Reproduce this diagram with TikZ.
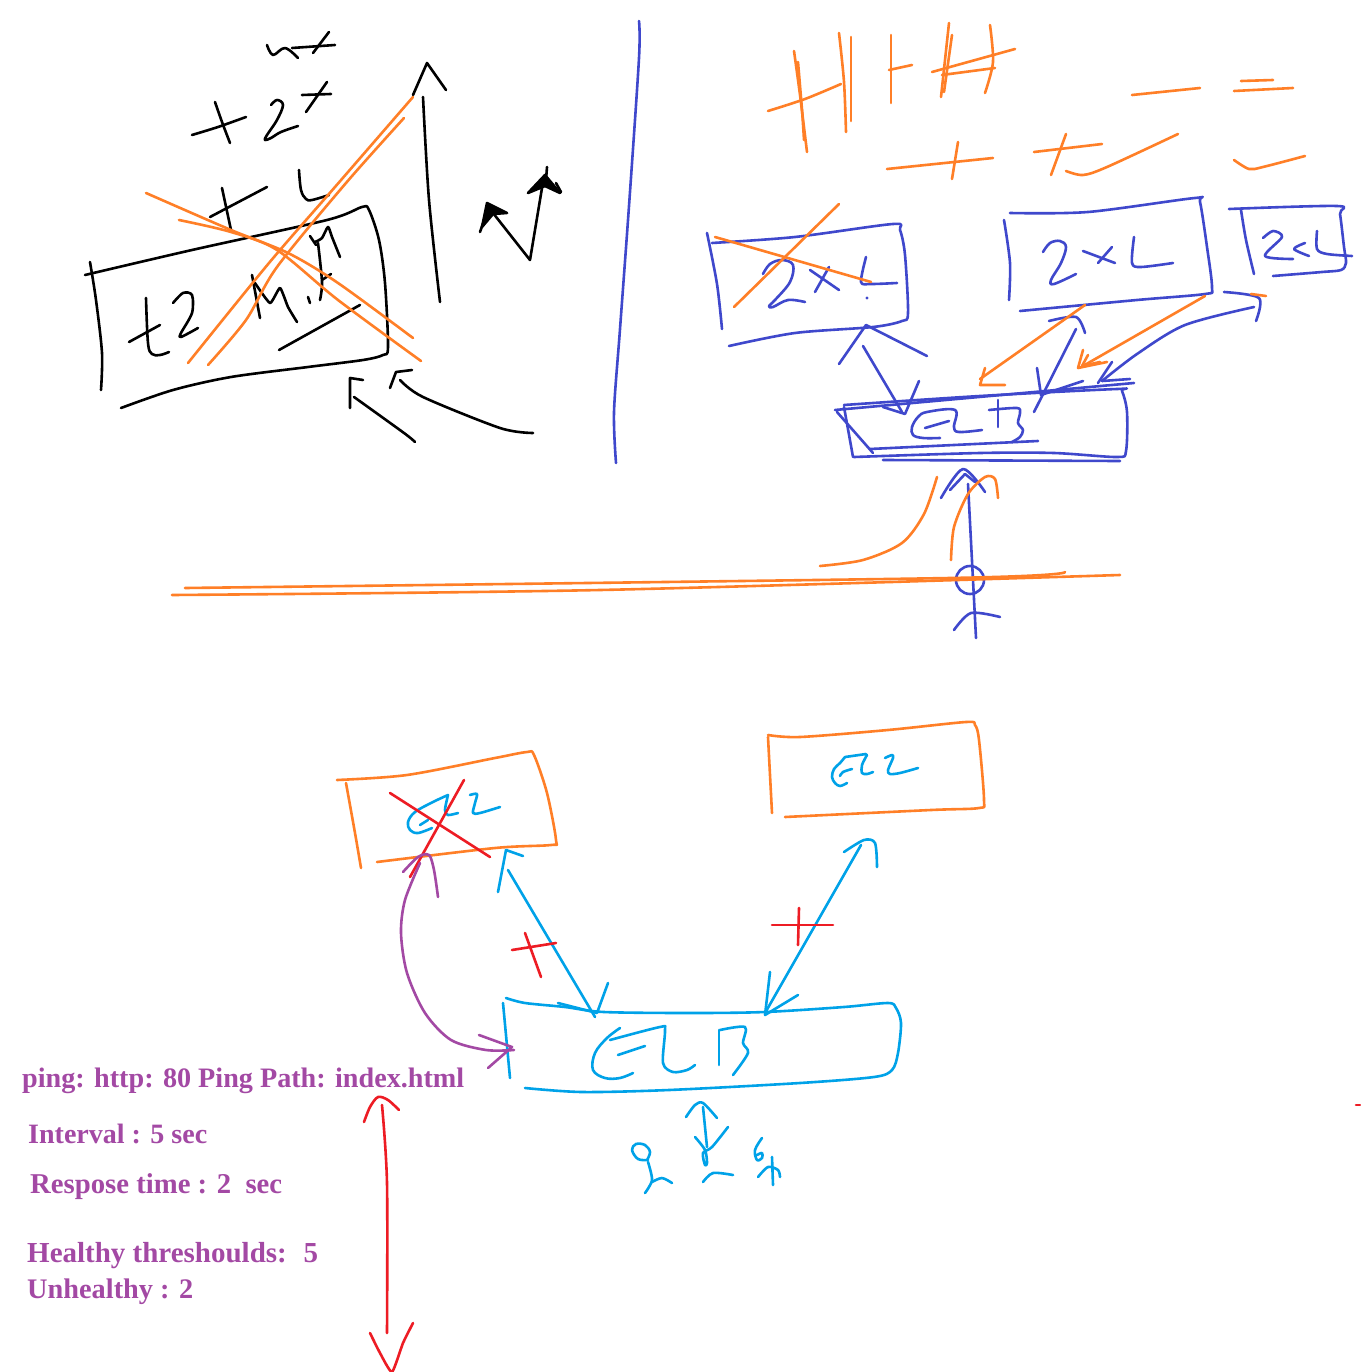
\documentclass[tikz,border=0pt]{standalone}
\usepackage{fontspec}
\setmainfont{Liberation Serif}
\definecolor{orng}{HTML}{FF7F27}
\definecolor{indg}{HTML}{3F48CC}
\definecolor{lblu}{HTML}{00A2E8}
\definecolor{redd}{HTML}{ED1C24}
\definecolor{purp}{HTML}{A349A4}
\tikzset{
  pen/.style={line width=2.6pt, line cap=round, line join=round},
  bk/.style={pen, black},
  og/.style={pen, orng},
  ib/.style={pen, indg},
  lb/.style={pen, lblu},
  rd/.style={pen, redd},
  pp/.style={pen, purp},
  txt/.style={anchor=base west, inner sep=0pt, text=purp, font=\bfseries}
}
\begin{document}
\begin{tikzpicture}[x=1pt,y=-1pt]
\useasboundingbox[fill=white] (0,0) rectangle (1360,1372);
% ================= top-left black sketch =================
\draw[bk] plot[smooth,tension=0.6] coordinates {(267,45)(273,55)(285,48)(298,58)};
\draw[bk] (292,48) -- (335,45);
\draw[bk] (329,32) -- (313,53);
\draw[bk] plot[smooth] coordinates {(192,135)(218,127)(246,117)};
\draw[bk] plot[smooth] coordinates {(215,102)(222,122)(230,143)};
\draw[bk] plot[smooth,tension=0.6] coordinates {(271,105)(277,100)(283,105)(277,120)(267,135)(265,140)(271,138)(281,132)(298,126)};
\draw[bk] (302,95) -- (331,94);
\draw[bk] (327,82) -- (306,112);
\draw[bk] (210,217) -- (267,187);
\draw[bk] (222,188) -- (231,230);
\draw[bk] plot[smooth,tension=0.6] coordinates {(299,170)(301,190)(306,199)(312,200)(329,195)};
% box
\draw[bk] plot[smooth,tension=0.5] coordinates {(85,275)(192,250)(327,220)(362,207)(369,210)(379,240)(385,283)(388,347)(383,355)(363,360)(308,367)(231,377)(173,390)(121,408)};
\draw[bk] plot[smooth] coordinates {(90,262)(96,300)(102,353)(101,390)};
% t2
\draw[bk] plot[smooth,tension=0.6] coordinates {(146,298)(148,343)(152,354)(160,355)(169,352)};
\draw[bk] (129,342) -- (160,325);
\draw[bk] plot[smooth,tension=0.5] coordinates {(173,303)(183,293)(192,295)(192,313)(181,333)(181,337)(198,328)};
% M1x
\draw[bk] (310,236) -- (316,245);
\draw[bk] plot[smooth,tension=0.4] coordinates {(315,242)(322,238)(328,227)(332,237)(340,257)};
\draw[bk] plot[smooth] coordinates {(318,243)(322,282)(320,300)};
\draw[bk] (322,280) -- (331,274);
\draw[bk] (308,297) -- (310,303);
\draw[bk] (252,275) -- (260,318);
\draw[bk] plot[smooth,tension=0.3] coordinates {(255,283)(270,303)(280,288)(288,307)(297,322)};
\draw[bk] (279,350) -- (360,305);
% tall arrow
\draw[bk] plot[smooth] coordinates {(423,97)(429,200)(440,302)};
\draw[bk] (413,95) -- (427,63) -- (446,90);
% small arrows with filled heads
\draw[bk] (530,260) -- (493,213);
\draw[bk, fill=black] (482,227) -- (487,203) -- (507,213) -- (493,214) -- cycle;
\draw[bk] (480,232) -- (486,215);
\draw[bk] (530,260) -- (542,188);
\draw[bk, fill=black] (528,193) -- (545,175) -- (560,193) -- (545,186) -- cycle;
\draw[bk] (547,167) -- (546,180);
\draw[bk] (556,183) -- (561,192);
% bottom black arrows
\draw[bk] plot[smooth] coordinates {(415,442)(404,433)(354,397)};
\draw[bk] (350,408) -- (350,378) -- (363,380);
\draw[bk] plot[smooth] coordinates {(533,433)(500,428)(423,397)(400,380)};
\draw[bk] (390,388) -- (396,372) -- (412,370);
% orange cross-outs
\draw[og] plot[smooth] coordinates {(146,193)(231,230)(288,253)(338,283)(413,338)};
\draw[og] plot[smooth] coordinates {(179,220)(231,232)(277,250)(338,300)(421,361)};
\draw[og] plot[smooth] coordinates {(188,363)(269,263)(335,187)(413,97)};
\draw[og] plot[smooth] coordinates {(208,365)(246,320)(277,267)(346,183)(404,118)};
% ================= divider =================
\draw[ib] plot[smooth] coordinates {(639,21)(639,58)(629,206)(620,329)(614,412)(616,463)};
% ================= top-right orange tallies =================
\draw[og] plot[smooth] coordinates {(794,51)(800,95)(807,152)};
\draw[og] plot[smooth] coordinates {(798,62)(802,110)(804,140)};
\draw[og] plot[smooth] coordinates {(768,111)(805,99)(841,84)};
\draw[og] plot[smooth] coordinates {(839,33)(844,82)(846,132)};
\draw[og] (851,37) -- (851,121);
\draw[og] (891,35) -- (891,103);
\draw[og] (889,70) -- (912,65);
\draw[og] (949,23) -- (941,97);
\draw[og] (952,35) -- (944,92);
\draw[og] (932,72) -- (1015,49);
\draw[og] (942,75) -- (995,68);
\draw[og] plot[smooth] coordinates {(990,25)(993,62)(985,93)};
\draw[og] (1132,95) -- (1200,88);
\draw[og] (1241,81) -- (1273,80);
\draw[og] (1234,91) -- (1293,88);
\draw[og] (887,169) -- (993,158);
\draw[og] (958,142) -- (952,179);
\draw[og] (1034,152) -- (1102,144);
\draw[og] (1066,134) -- (1051,175);
\draw[og] plot[smooth] coordinates {(1066,171)(1083,175)(1107,167)(1178,134)};
\draw[og] plot[smooth] coordinates {(1234,160)(1249,169)(1263,167)(1305,156)};
% ================= top-right blue boxes =================
% box 2x! (crossed)
\draw[ib] plot[smooth,tension=0.5] coordinates {(712,243)(795,237)(893,224)(900,230)(905,255)(908,313)(902,321)(873,327)(795,333)(729,346)};
\draw[ib] plot[smooth] coordinates {(707,233)(717,284)(722,329)};
\draw[ib] plot[smooth,tension=0.6] coordinates {(763,274)(770,264)(782,260)(793,265)(790,282)(775,300)(769,306)(773,307)(788,300)(805,302)};
\draw[ib] (810,270) -- (839,290);
\draw[ib] (815,292) -- (829,267);
\draw[ib] plot[smooth,tension=0.5] coordinates {(866,257)(861,282)(871,284)(897,283)};
\fill[indg] (867,298) circle (1.6);
\draw[og] (715,237) -- (871,282);
\draw[og] (734,307) -- (839,204);
% box 2xL
\draw[ib] plot[smooth,tension=0.5] coordinates {(1010,213)(1088,212)(1195,198)(1200,202)(1207,247)(1212,288)(1205,294)(1137,300)(1020,311)};
\draw[ib] plot[smooth] coordinates {(1004,220)(1010,263)(1009,300)};
\draw[ib] plot[smooth,tension=0.6] coordinates {(1043,252)(1050,243)(1060,241)(1066,247)(1061,263)(1051,280)(1054,284)(1076,274)};
\draw[ib] (1083,251) -- (1115,263);
\draw[ib] (1098,263) -- (1112,247);
\draw[ib] plot[smooth,tension=0.5] coordinates {(1134,237)(1132,263)(1141,267)(1173,263)};
% box 2<L
\draw[ib] plot[smooth,tension=0.5] coordinates {(1229,209)(1337,206)(1340,214)(1344,247)(1346,263)(1341,270)(1322,272)(1273,276)};
\draw[ib] plot[smooth] coordinates {(1241,210)(1246,240)(1254,274)};
\draw[ib] plot[smooth,tension=0.5] coordinates {(1263,238)(1273,231)(1282,237)(1265,256)(1293,259)};
\draw[ib] plot[smooth,tension=0.5] coordinates {(1305,243)(1294,249)(1309,256)};
\draw[ib] plot[smooth,tension=0.5] coordinates {(1317,231)(1317,249)(1327,254)(1352,256)};
% ELB box (top)
\draw[ib] plot[smooth,tension=0.5] coordinates {(844,405)(980,396)(1117,389)(1122,391)(1127,412)(1126,451)(1117,457)(1054,453)(980,453)(854,457)};
\draw[ib] (844,407) -- (853,457);
\draw[ib] (835,410) -- (1134,383);
\draw[ib] (883,460) -- (1120,461);
\draw[ib] (837,412) -- (873,453);
\draw[ib] (870,449) -- (1038,441);
\draw[ib] plot[smooth,tension=0.6] coordinates {(940,438)(923,438)(913,435)(912,427)(918,417)(927,412)(955,410)(954,427)(959,432)(982,430)};
\draw[ib] (925,428) -- (949,421);
\draw[ib] (998,400) -- (998,427);
\draw[ib] plot[smooth,tension=0.5] coordinates {(989,410)(1017,408)(1020,413)(1018,423)(1023,430)(1020,437)(1012,442)};
% arrows between boxes
\draw[ib] (839,364) -- (866,325) -- (927,356);
\draw[ib] (863,346) -- (902,412);
\draw[ib] (883,407) -- (905,414) -- (919,381);
\draw[ib] (1034,412) -- (1076,329);
\draw[ib] plot[smooth] coordinates {(1049,321)(1076,317)(1085,333)};
\draw[ib] (1037,368) -- (1041,395) -- (1083,381);
\draw[og] (1085,305) -- (980,379);
\draw[og] (985,368) -- (980,385) -- (1005,385);
\draw[og] (1205,296) -- (1083,366);
\draw[og] (1083,350) -- (1078,368) -- (1107,362);
\draw[og] (1088,355) -- (1082,366) -- (1100,362);
\draw[ib] plot[smooth] coordinates {(1102,381)(1137,354)(1185,325)(1254,307)};
\draw[ib] plot[smooth] coordinates {(1224,292)(1259,298)(1256,321)};
\draw[ib] (1098,383) -- (1112,362);
\draw[ib] (1102,381) -- (1130,379);
\draw[og] (1251,294) -- (1266,296);
% below top ELB
\draw[ib] (968,484) -- (976,638);
\draw[ib] plot[smooth] coordinates {(941,498)(963,469)(985,492)};
\draw[ib] (950,490) -- (965,474) -- (975,482);
\draw[ib] (970,580) circle (14);
\draw[ib] plot[smooth] coordinates {(954,630)(971,613)(1000,617)};
\draw[og] plot[smooth] coordinates {(937,477)(924,514)(902,543)(863,560)(820,566)};
\draw[og] plot[smooth] coordinates {(951,560)(954,527)(968,494)(985,477)(995,479)(998,498)};
\draw[og] plot[smooth] coordinates {(172,595)(600,590)(1120,575)};
\draw[og] plot[smooth] coordinates {(185,588)(950,578)(1065,572)};
% ================= bottom diagram =================
% left orange box
\draw[og] plot[smooth,tension=0.5] coordinates {(337,780)(407,775)(495,758)(527,752)(534,755)(547,793)(556,840)(551,845)(495,848)(377,862)};
\draw[og] plot[smooth] coordinates {(346,783)(355,833)(361,868)};
\draw[lb] plot[smooth,tension=0.6] coordinates {(448,795)(433,802)(415,812)(408,822)(410,830)(418,833)(432,828)};
\draw[lb] (420,825) -- (428,820);
\draw[lb] plot[smooth,tension=0.5] coordinates {(448,795)(445,810)(448,815)(458,813)};
\draw[lb] plot[smooth,tension=0.5] coordinates {(470,795)(477,794)(475,803)(473,813)(480,813)(500,807)};
\draw[rd] (390,793) -- (490,857);
\draw[rd] (464,780) -- (410,877);
% right orange box
\draw[og] plot[smooth,tension=0.5] coordinates {(768,735)(800,737)(888,730)(966,722)(975,725)(979,740)(984,800)(979,808)(931,810)(785,817)};
\draw[og] (768,737) -- (772,813);
\draw[lb] plot[smooth,tension=0.6] coordinates {(845,757)(840,763)(834,769)(832,777)(835,783)(840,786)(847,783)};
\draw[lb] plot[smooth,tension=0.6] coordinates {(852,769)(843,772)(840,776)};
\draw[lb] (845,757) -- (866,754);
\draw[lb] plot[smooth,tension=0.5] coordinates {(867,755)(862,765)(862,773)(867,774)(873,772)};
\draw[lb] plot[smooth,tension=0.5] coordinates {(885,758)(892,755)(893,758)(888,770)(890,774)(900,773)(918,768)};
% bottom ELB box
\draw[lb] plot[smooth,tension=0.5] coordinates {(506,998)(525,1003)(565,1007)(604,1012)(691,1013)(765,1012)(844,1007)(888,1003)(896,1008)(901,1023)(898,1053)(892,1070)(874,1077)(800,1083)(669,1090)(582,1092)(525,1088)};
\draw[lb] (503,1003) -- (510,1078);
\draw[lb] plot[smooth,tension=0.6] coordinates {(620,1028)(607,1038)(595,1053)(593,1070)(605,1078)(620,1078)(633,1073)};
\draw[lb] plot[smooth,tension=0.5] coordinates {(610,1040)(660,1027)(665,1030)(663,1063)(673,1072)(687,1070)(695,1065)};
\draw[lb] (618,1055) -- (645,1046);
\draw[lb] (719,1030) -- (719,1065);
\draw[lb] plot[smooth,tension=0.5] coordinates {(720,1030)(745,1027)(743,1043)(748,1053)(733,1075)};
% arrows
\draw[lb] (508,870) -- (595,1017);
\draw[lb] (498,892) -- (506,850) -- (523,856);
\draw[lb] (558,1003) -- (597,1013) -- (608,983);
\draw[rd] (512,950) -- (556,943);
\draw[rd] (525,933) -- (541,977);
\draw[lb] (765,1013) -- (861,845);
\draw[lb] plot[smooth] coordinates {(844,852)(864,840)(875,843)(877,867)};
\draw[lb] (770,972) -- (765,1015) -- (798,995);
\draw[rd] (772,925) -- (833,925);
\draw[rd] (799,908) -- (798,945);
\draw[pp] plot[smooth] coordinates {(514,1050)(486,1050)(451,1040)(425,1013)(407,973)(401,933)(405,900)(420,863)};
\draw[pp] (479,1035) -- (512,1047) -- (488,1068);
\draw[pp] plot[smooth] coordinates {(403,872)(418,857)(429,855)(434,870)(438,897)};
% under bottom ELB
\draw[lb] (703,1107) -- (707,1147);
\draw[lb] plot[smooth,tension=0.5] coordinates {(686,1117)(695,1105)(703,1103)(717,1118)};
\draw[lb] plot[smooth,tension=0.5] coordinates {(695,1137)(705,1150)(707,1163)(705,1165)(703,1153)(712,1147)(728,1127)};
\draw[lb] plot[smooth,tension=0.5] coordinates {(703,1182)(713,1173)(733,1175)};
\draw[lb] plot[smooth,tension=0.6] coordinates {(648,1160)(638,1159)(632,1150)(636,1144)(645,1145)(650,1152)(647,1160)};
\draw[lb] plot[smooth] coordinates {(648,1162)(652,1180)(645,1193)};
\draw[lb] plot[smooth] coordinates {(652,1182)(662,1178)(672,1183)};
\draw[lb] plot[smooth,tension=0.6] coordinates {(762,1138)(755,1150)(757,1160)(762,1158)(762,1153)(757,1155)};
\draw[lb] plot[smooth,tension=0.5] coordinates {(758,1177)(768,1167)(778,1170)(780,1177)};
\draw[lb] (772,1157) -- (773,1185);
% red long double arrow
\draw[rd] plot[smooth] coordinates {(382,1105)(387,1183)(387,1333)};
\draw[rd] plot[smooth] coordinates {(364,1122)(370,1107)(378,1097)(388,1100)(399,1110)};
\draw[rd] plot[smooth,tension=0.3] coordinates {(370,1333)(380,1353)(392,1372)(403,1343)(413,1323)};
\draw[rd] (1356,1105) -- (1360,1105);
% texts
\node[txt] (t1) at (22,1087) {\resizebox{442pt}{!}{ping: http: 80 Ping Path: index.html}};
\node[txt] (t2) at (28,1143) {\resizebox{179pt}{!}{Interval : 5 sec}};
\node[txt] (t3) at (30,1193) {\resizebox{252pt}{!}{Respose time : 2 \ sec}};
\node[txt] (t4) at (27,1262) {\resizebox{291pt}{!}{Healthy threshoulds: \ 5}};
\node[txt] (t5) at (27,1298) {\resizebox{166pt}{!}{Unhealthy : 2}};
\end{tikzpicture}
\end{document}
